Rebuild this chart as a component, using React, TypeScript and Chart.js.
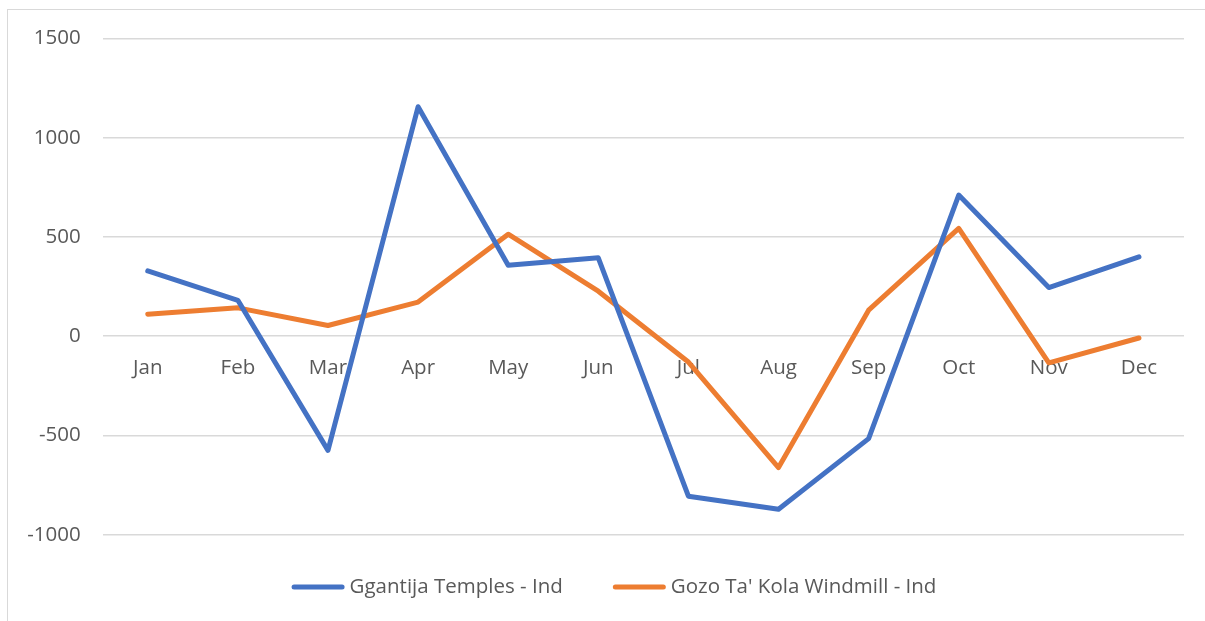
import React, { useEffect, useRef } from "react";
import { Chart, registerables } from "chart.js";

Chart.register(...registerables);

const months = ["Jan", "Feb", "Mar", "Apr", "May", "Jun", "Jul", "Aug", "Sep", "Oct", "Nov", "Dec"];
const ggantijaTemples = [329, 181, -575, 1156, 358, 395, -806, -872, -516, 711, 245, 400];
const gozoTaKolaWindmill = [111, 143, 54, 172, 514, 227, -130, -662, 131, 543, -134, -9];
const yTickValues = [-1000, -500, 0, 500, 1000, 1500];
const seriesNames = ["Ggantija Temples - Ind", "Gozo Ta' Kola Windmill - Ind"];
const seriesColors = ["#4472C4", "#ED7D31"];

const FONT = "'Open Sans', 'DejaVu Sans', sans-serif";
const FS = 20.5;
const TEXT = "#595959";
const GRID = "#d9d9d9";

const legendPlugin = {
  id: "excelLegend",
  afterDraw(chart: any) {
    const ctx = chart.ctx;
    const ds = chart.data.datasets;
    ctx.save();
    ctx.font = `${FS}px ${FONT}`;
    const lineLen = 53;
    const textGap = 5;
    const itemGap = 50;
    const widths = ds.map((d: any) => lineLen + textGap + ctx.measureText(d.label).width);
    const total = widths.reduce((a: number, b: number) => a + b, 0) + itemGap * (ds.length - 1);
    let x = 614 - total / 2;
    const y = 587;
    ds.forEach((d: any, i: number) => {
      ctx.strokeStyle = d.borderColor;
      ctx.lineWidth = 5;
      ctx.lineCap = "round";
      ctx.beginPath();
      ctx.moveTo(x + 2.5, y);
      ctx.lineTo(x + lineLen - 2.5, y);
      ctx.stroke();
      ctx.fillStyle = TEXT;
      ctx.textAlign = "left";
      ctx.textBaseline = "middle";
      ctx.fillText(d.label, x + lineLen + textGap, y);
      x += widths[i] + itemGap;
    });
    ctx.restore();
  },
};

export default function App() {
  const ref = useRef<HTMLCanvasElement | null>(null);
  useEffect(() => {
    if (!ref.current) return;
    const chart = new Chart(ref.current, {
      type: "line",
      data: {
        labels: months,
        datasets: [
          {
            label: seriesNames[0],
            data: ggantijaTemples,
            borderColor: seriesColors[0],
            backgroundColor: seriesColors[0],
            borderWidth: 5,
            pointRadius: 0,
            tension: 0,
            borderJoinStyle: "round",
            borderCapStyle: "round",
          },
          {
            label: seriesNames[1],
            data: gozoTaKolaWindmill,
            borderColor: seriesColors[1],
            backgroundColor: seriesColors[1],
            borderWidth: 5,
            pointRadius: 0,
            tension: 0,
            borderJoinStyle: "round",
            borderCapStyle: "round",
          },
        ],
      },
      options: {
        animation: false,
        responsive: false,
        maintainAspectRatio: false,
        devicePixelRatio: 1,
        layout: { padding: { left: 0, right: 21, top: 38.5, bottom: 86.3 } },
        plugins: {
          legend: { display: false },
          tooltip: { enabled: false },
        },
        scales: {
          x: {
            type: "category",
            position: { y: 0 } as any,
            offset: true,
            grid: { display: false, drawTicks: false },
            border: { display: false },
            ticks: {
              autoSkip: false,
              maxRotation: 0,
              padding: 20,
              color: TEXT,
              font: { family: FONT, size: FS },
            },
          },
          y: {
            min: -1000,
            max: 1500,
            afterBuildTicks: (s: any) => {
              s.ticks = yTickValues.map((v) => ({ value: v }));
            },
            afterFit: (s: any) => {
              s.width = 102.7;
            },
            grid: { color: GRID, lineWidth: 1.5, drawTicks: false },
            border: { display: false },
            ticks: {
              padding: 22,
              color: TEXT,
              font: { family: FONT, size: FS },
              callback: (v: any) => String(v),
            },
          },
        },
      },
      plugins: [legendPlugin],
    });
    return () => chart.destroy();
  }, []);

  return (
    <div style={{ position: "fixed", left: 0, top: 0, width: 1205, height: 621, background: "#fff", overflow: "hidden" }}>
      <div
        style={{
          position: "absolute",
          left: 7,
          top: 9,
          width: 1300,
          height: 700,
          border: "1px solid #d9d9d9",
          boxSizing: "border-box",
        }}
      />
      <canvas ref={ref} width={1205} height={621} style={{ position: "absolute", left: 0, top: 0, display: "block" }} />
    </div>
  );
}
